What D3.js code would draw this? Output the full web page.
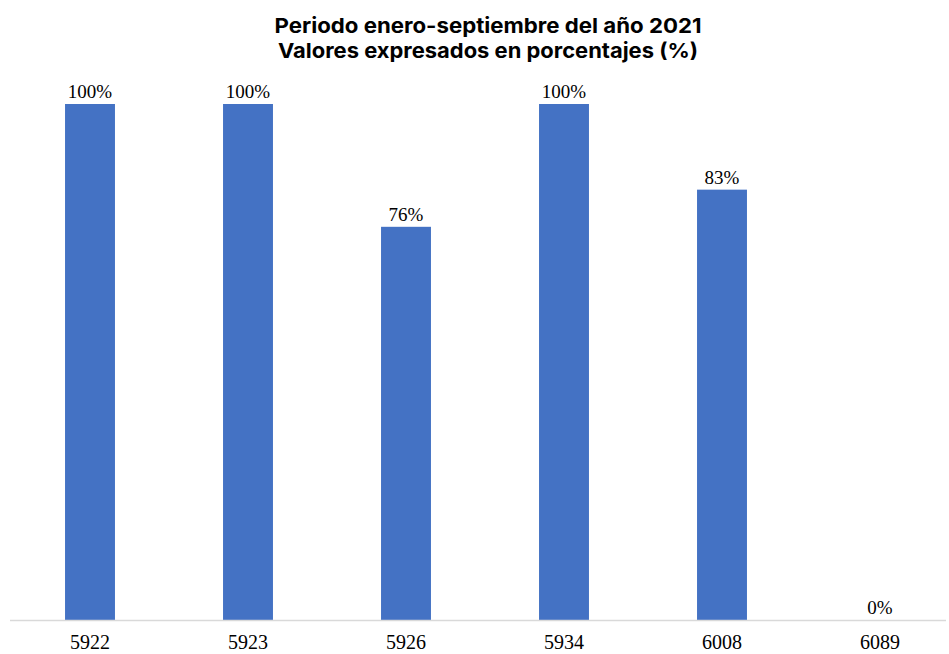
<!DOCTYPE html>
<html><head><meta charset="utf-8">
<script src="https://cdn.jsdelivr.net/npm/d3@7"></script>
<style>body{margin:0;background:#fff}</style>
</head><body><svg id="c" width="949" height="654"></svg>
<script>
const categories = ["5922","5923","5926","5934","6008","6089"];
const values = [100,100,76.2,100,83.4,0];
const titleLines = ["Periodo enero-septiembre del año 2021","Valores expresados en porcentajes (%)"];

const svg = d3.select("#c");
const W = 949, H = 654;
const x = d3.scaleBand().domain(categories).range([11, 11 + 158*6]).paddingInner(0.684).paddingOuter(0.342);
const y = d3.scaleLinear().domain([0,100]).range([620,104]);

const titleW = [427, 420];
svg.append("g").selectAll("text").data(titleLines).join("text")
  .attr("x", 488).attr("y", (d,i)=>33 + i*25)
  .attr("text-anchor","middle")
  .attr("font-family","Inter, 'DejaVu Sans', sans-serif")
  .attr("font-weight","700").attr("font-size",20.5).attr("fill","#000")
  .attr("textLength",(d,i)=>titleW[i]).attr("lengthAdjust","spacingAndGlyphs")
  .text(d=>d);

svg.append("g").selectAll("rect").data(values).join("rect")
  .attr("x",(d,i)=>x(categories[i])).attr("width",x.bandwidth())
  .attr("y",d=>y(d)).attr("height",d=>y(0)-y(d)).attr("fill","#4472c4");

svg.append("line").attr("x1",10).attr("x2",W-3).attr("y1",y(0)+0.5).attr("y2",y(0)+0.5)
  .attr("stroke","#d9d9d9").attr("stroke-width",1.5);

svg.append("g").selectAll("text").data(values).join("text")
  .attr("x",(d,i)=>x(categories[i])+x.bandwidth()/2).attr("y",d=>y(d)-6)
  .attr("text-anchor","middle").attr("font-family","'Liberation Serif', serif")
  .attr("font-size",19).attr("fill","#000")
  .text(d=>Math.round(d)+"%");

svg.append("g").selectAll("text").data(categories).join("text")
  .attr("x",d=>x(d)+x.bandwidth()/2).attr("y",649)
  .attr("text-anchor","middle").attr("font-family","'Liberation Serif', serif")
  .attr("font-size",20).attr("fill","#000")
  .text(d=>d);
</script></body></html>
